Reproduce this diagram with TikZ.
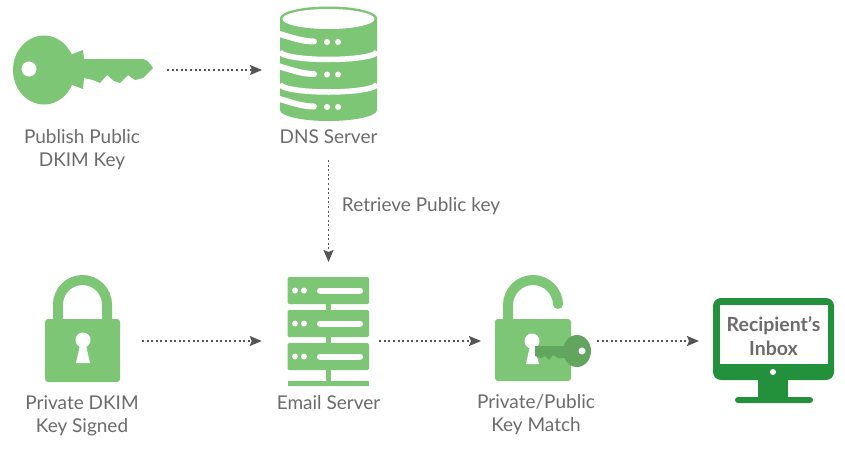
\documentclass[tikz,border=0pt]{standalone}
\usepackage{fontspec}
\setmainfont{Lato}
\usepackage{tikz}
\usetikzlibrary{arrows.meta}
\usetikzlibrary{positioning}
\definecolor{vertclair}{HTML}{7DC675}
\definecolor{vertmoyen}{HTML}{62A55F}
\definecolor{vertfonce}{HTML}{23903C}
\definecolor{gristexte}{HTML}{6B6B6B}
\definecolor{grisfleche}{HTML}{555555}
\begin{document}
\begin{tikzpicture}[x=1pt,y=-1pt]
% définition des paramètres
\tikzstyle iconeboite=[inner sep=0pt,outer sep=0pt]
\tikzstyle fleche=[color=grisfleche,line width=1.5pt,dash pattern=on 2pt off 2.6pt,-{Stealth[length=12pt,width=10pt,inset=2pt,sep=0pt]}]
\tikzstyle etiquette=[color=gristexte,align=center,inner sep=0pt,font=\fontsize{19}{23.5}\selectfont]
\tikzstyle etiquettegras=[color=gristexte,align=center,inner sep=0pt,font=\fontsize{19.5}{24}\selectfont\bfseries]
\tikzstyle vide=[fill=white]
\tikzstyle anse=[color=vertclair,line width=10pt]
\tikzstyle bande=[color=white,line width=5.5pt]
\tikzstyle barre=[color=white,line width=6pt,line cap=round]
\newcommand{\ligneun}{70}     % hauteur des flèches du haut
\newcommand{\lignedeux}{341}  % hauteur des flèches du bas

\useasboundingbox (0,0) rectangle (845,450);
\fill[white] (0,0) rectangle (845,450);

% la clé
\fill[vertclair] (70,55) -- (83,50) -- (84,59) -- (143,59) .. controls (148,60) and (151,65) .. (153,68) -- (143,78) -- (135,80) -- (128,75) -- (120,83) -- (114,81) -- (107,75) -- (100,83) -- (93,80) -- (84,78) -- (83,89) -- (70,84) -- cycle;
\fill[vertclair] (44,70) ellipse[x radius=31,y radius=34.5];
\fill[vide] (29,69) circle (7.5);

% le serveur DNS
\fill[vertclair] (280,18) arc[start angle=180,end angle=360,x radius=48.5,y radius=11.5] -- (377,110) arc[start angle=0,end angle=180,x radius=48.5,y radius=11] -- cycle;
\fill[vide] (328.5,19) ellipse[x radius=46,y radius=10];
\foreach \d in {0,32.5}
    \draw[shift={(0,\d)},bande] (280,51.5) arc[start angle=180,end angle=0,x radius=48.5,y radius=8];
\foreach \d in {0,32.5,65} {
    \draw[shift={(0,\d)},barre] (278,33.5) .. controls (293,38) and (303,41.5) .. (314,41.5);
    \fill[shift={(0,\d)},vide] (327,42) circle (3);
    \fill[shift={(0,\d)},vide] (338,42) circle (3);
}

% le cadenas fermé
\draw[anse] (58,322) -- (58,304.5) arc[start angle=180,end angle=360,radius=24.5] -- (107,322);
\fill[vertclair,rounded corners=3pt] (45,319) rectangle (120,382);
\fill[vide] (83,340) circle (7.5);
\fill[vide] (80,345) -- (86,345) -- (90,363) -- (76,363) -- cycle;

% le serveur mail
\fill[vertclair] (325.5,300) rectangle (330.5,384);
\foreach \d in {0,33,66} {
    \fill[shift={(0,\d)},vertclair,rounded corners=1.5pt] (287.5,277) rectangle (369,304);
    \fill[shift={(0,\d)},vide] (295,290.5) circle (3);
    \fill[shift={(0,\d)},vide] (304,290.5) circle (3);
    \draw[shift={(0,\d)},barre] (320,290.5) -- (360,290.5);
}
\fill[vertclair] (287.5,381) rectangle (369,386);

% le cadenas ouvert
\draw[anse] (508,322) -- (508,305) arc[start angle=180,end angle=360,radius=25] -- (558,304);
\fill[vertclair] (558,304) circle (5);
\fill[vertclair,rounded corners=3pt] (495,319) rectangle (571,381);
\fill[vide] (532,341) circle (7.5);
\fill[vide] (530,346) -- (534,346) -- (539,364) -- (526,364) -- cycle;
% la clé dans le cadenas
\fill[vertmoyen] (535,346) -- (565,346) -- (565,358) -- (558,358) -- (553,355) -- (549,360) -- (545,356) -- (541,358) -- (535,356) -- cycle;
\fill[vertmoyen] (577,351) ellipse[x radius=14,y radius=16];
\fill[vide] (582,351) circle (3.5);

% l'écran
\fill[vertfonce,rounded corners=8pt] (713,298) rectangle (834,380);
\fill[vide] (719.5,305) rectangle (828,364);
\fill[vide] (773,372) circle (3);
\fill[vertfonce] (758,378) rectangle (788,398);
\fill[vertfonce,rounded corners=3pt] (735,397) rectangle (813,403);

% les noeuds
\node[iconeboite,minimum width=141pt,minimum height=70pt] (clepublique) at (82.5,\ligneun) {};
\node[iconeboite,minimum width=97pt,minimum height=126pt] (serveurdns) at (328.5,\ligneun) {};
\node[iconeboite,minimum width=75pt,minimum height=132pt] (cadenasferme) at (82.5,\lignedeux) {};
\node[iconeboite,minimum width=81.5pt,minimum height=128pt] (serveurmail) at (328.5,\lignedeux) {};
\node[iconeboite,minimum width=95pt,minimum height=132pt] (cadenasouvert) at (542.5,\lignedeux) {};
\node[iconeboite,minimum width=121pt,minimum height=86pt] (ecran) at (773.5,\lignedeux) {};

% les textes
\node[etiquette] (txtcle) at (82,149.5) {Publish Public\\DKIM Key};
\node[etiquette] (txtdns) at (328.5,137) {DNS Server};
\node[etiquette] (txtrecup) at (421,206) {Retrieve Public key};
\node[etiquette] (txtferme) at (82,416) {Private DKIM\\Key Signed};
\node[etiquette] (txtmail) at (328.5,403) {Email Server};
\node[etiquette] (txtouvert) at (536,414.5) {Private/Public\\Key Match};
\node[etiquettegras] (txtecran) at (773.5,336) {Recipient’s\\Inbox};

% les flèches
\draw[fleche,shorten <=14pt,shorten >=18pt] (clepublique) -- (serveurdns);
\draw[fleche,shorten <=27pt,shorten >=15pt] (serveurdns) -- (serveurmail);
\draw[fleche,shorten <=22pt,shorten >=26pt] (cadenasferme) -- (serveurmail);
\draw[fleche,shorten <=10pt,shorten >=14pt] (serveurmail) -- (cadenasouvert);
\draw[fleche,shorten <=7pt,shorten >=14pt] (cadenasouvert) -- (ecran);
\end{tikzpicture}
\end{document}
